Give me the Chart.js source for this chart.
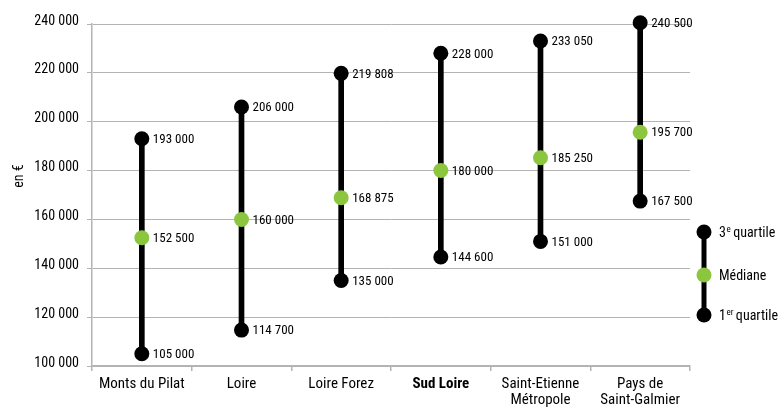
<!DOCTYPE html>
<html>
<head>
<meta charset="utf-8">
<script src="https://cdn.jsdelivr.net/npm/chart.js@4/dist/chart.umd.min.js"></script>
<style>
  html, body { margin: 0; padding: 0; background: #fff; }
  #wrap { width: 784px; height: 407px; position: relative; }
</style>
</head>
<body>
<div id="wrap"><canvas id="c" width="784" height="407"></canvas></div>
<script>
const FONT = "'Roboto Condensed', Roboto, sans-serif";

// Territoires comparés
const categories = [
  'Monts du Pilat',
  'Loire',
  'Loire Forez',
  'Sud Loire',
  ['Saint-Etienne', 'Métropole'],
  ['Pays de', 'Saint-Galmier']
];
// Prix en euros
const quartile1 = [105000, 114700, 135000, 144600, 151000, 167500];
const mediane   = [152500, 160000, 168875, 180000, 185250, 195700];
const quartile3 = [193000, 206000, 219808, 228000, 233050, 240500];

const yTicks = [100000, 120000, 140000, 160000, 180000, 200000, 220000, 240000];
const boldCategory = 3;

const GREEN = '#8cc63f';
const GRID = '#b3b3b3';
const TEXT = '#000';

const fmt = v => String(Math.round(v)).replace(/\B(?=(\d{3})+(?!\d))/g, ' ');

// Valeur écrite à droite de chaque point
const valueLabels = {
  id: 'valueLabels',
  afterDatasetsDraw(chart) {
    const ctx = chart.ctx;
    ctx.save();
    ctx.font = '13px ' + FONT;
    ctx.fillStyle = TEXT;
    ctx.textAlign = 'left';
    ctx.textBaseline = 'middle';
    chart.data.datasets.forEach((ds, di) => {
      if (ds.type !== 'line') return;
      chart.getDatasetMeta(di).data.forEach((pt, i) => {
        ctx.fillText(fmt(ds.data[i]), pt.x + 11, pt.y + 1);
      });
    });
    ctx.restore();
  }
};

// Titre vertical de l'axe des prix
const axisTitle = {
  id: 'axisTitle',
  afterDraw(chart) {
    const ctx = chart.ctx;
    ctx.save();
    ctx.translate(19, 176);
    ctx.rotate(-Math.PI / 2);
    ctx.font = '14px ' + FONT;
    ctx.fillStyle = TEXT;
    ctx.textAlign = 'center';
    ctx.textBaseline = 'middle';
    ctx.fillText('en €', 0, 0);
    ctx.restore();
  }
};

// Légende à droite de la zone de tracé
const sideLegend = {
  id: 'sideLegend',
  afterDraw(chart) {
    const ctx = chart.ctx;
    const x = 704, yTop = 232, yMid = 275, yBot = 315, r = 7.5;
    ctx.save();
    ctx.strokeStyle = '#000';
    ctx.lineWidth = 5;
    ctx.beginPath();
    ctx.moveTo(x, yTop);
    ctx.lineTo(x, yBot);
    ctx.stroke();
    [[yTop, '#000'], [yMid, GREEN], [yBot, '#000']].forEach(([y, c]) => {
      ctx.beginPath();
      ctx.arc(x, y, r, 0, Math.PI * 2);
      ctx.fillStyle = c;
      ctx.fill();
    });
    ctx.fillStyle = TEXT;
    ctx.textBaseline = 'middle';
    ctx.textAlign = 'left';
    const tx = 719;
    const writeSup = (y, main, sup, rest) => {
      ctx.font = '14px ' + FONT;
      ctx.fillText(main, tx, y + 1);
      let w = ctx.measureText(main).width;
      ctx.font = '9px ' + FONT;
      ctx.fillText(sup, tx + w + 0.5, y - 2);
      w += ctx.measureText(sup).width + 3;
      ctx.font = '14px ' + FONT;
      ctx.fillText(rest, tx + w, y + 1);
    };
    writeSup(yTop, '3', 'e', 'quartile');
    ctx.font = '14px ' + FONT;
    ctx.fillText('Médiane', tx, yMid + 1);
    writeSup(yBot, '1', 'er', 'quartile');
    ctx.restore();
  }
};

const pointSet = (label, data, color) => ({
  type: 'line',
  label,
  data,
  showLine: false,
  clip: false,
  pointRadius: 7.5,
  pointHoverRadius: 7.5,
  pointBackgroundColor: color,
  pointBorderColor: color,
  pointBorderWidth: 0,
  order: 0
});

new Chart(document.getElementById('c'), {
  type: 'bar',
  data: {
    labels: categories,
    datasets: [
      {
        type: 'bar',
        label: 'Intervalle',
        data: quartile1.map((q, i) => [q, quartile3[i]]),
        backgroundColor: '#000',
        borderWidth: 0,
        barThickness: 5,
        clip: false,
        order: 2
      },
      pointSet('3e quartile', quartile3, '#000'),
      pointSet('Médiane', mediane, GREEN),
      pointSet('1er quartile', quartile1, '#000')
    ]
  },
  options: {
    responsive: false,
    animation: false,
    devicePixelRatio: 1,
    layout: { padding: { top: 24, right: 94, left: 0, bottom: 0 } },
    plugins: {
      legend: { display: false },
      tooltip: { enabled: false }
    },
    scales: {
      x: {
        offset: true,
        afterFit: (axis) => { axis.height = 41; },
        grid: {
          offset: true,
          drawOnChartArea: false,
          drawTicks: true,
          tickLength: 5,
          color: GRID,
          lineWidth: 1.5
        },
        border: { color: GRID, width: 1.5 },
        ticks: {
          color: TEXT,
          padding: 5,
          maxRotation: 0,
          autoSkip: false,
          font: (c) => ({
            family: FONT,
            size: 15,
            weight: c.index === boldCategory ? 'bold' : 'normal',
            lineHeight: 1.08
          })
        }
      },
      y: {
        min: 100000,
        max: 240000,
        afterBuildTicks: (axis) => { axis.ticks = yTicks.map(v => ({ value: v })); },
        afterFit: (axis) => { axis.width = 92; },
        grid: {
          color: GRID,
          lineWidth: 1,
          tickLength: 5
        },
        border: { color: GRID, width: 1.5 },
        ticks: {
          color: TEXT,
          padding: 8,
          labelOffset: -3,
          font: { family: FONT, size: 14 },
          callback: (v) => fmt(v)
        }
      }
    }
  },
  plugins: [valueLabels, axisTitle, sideLegend]
});
</script>
</body>
</html>
